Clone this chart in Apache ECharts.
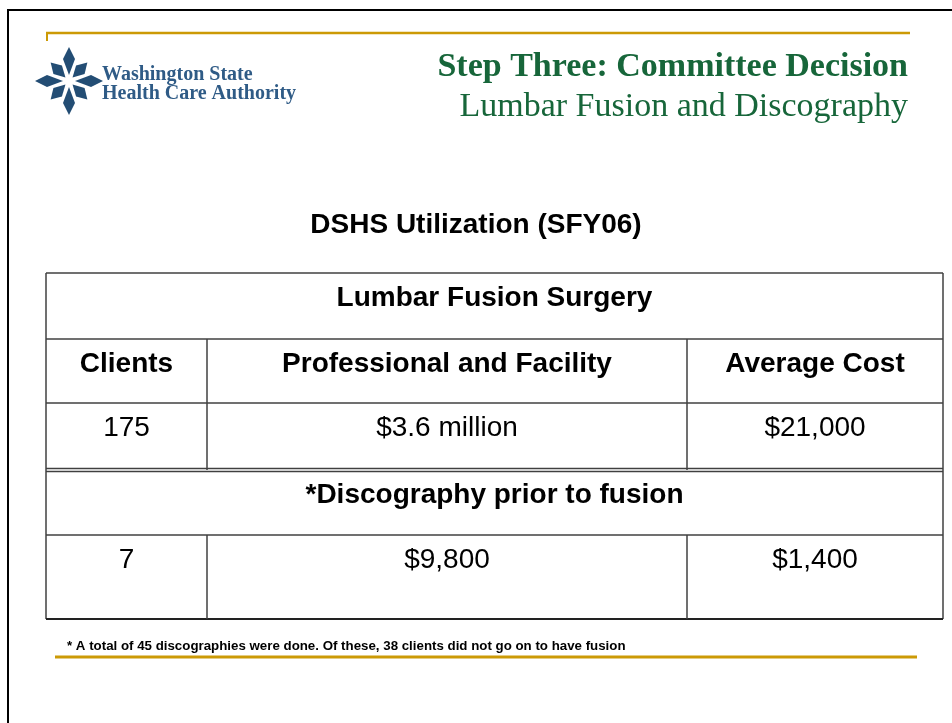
<!DOCTYPE html>
<html>
<head>
<meta charset="utf-8">
<title>DSHS Utilization (SFY06)</title>
<script src="https://cdn.jsdelivr.net/npm/echarts@6/dist/echarts.min.js"></script>
<style>
  html, body { margin: 0; padding: 0; background: #fff; }
  #chart { width: 952px; height: 723px; }
</style>
</head>
<body>
<div id="chart"></div>
<script>
  // table content
  var headerCols = ['Clients', 'Professional and Facility', 'Average Cost'];
  var sections = ['Lumbar Fusion Surgery', '*Discography prior to fusion'];
  var clients = [175, 7];
  var totalCost = ['$3.6 million', '$9,800'];
  var avgCost = ['$21,000', '$1,400'];
  var footnote = '* A total of 45 discographies were done. Of these, 38 clients did not go on to have fusion';

  // table layout (pixels inside the grid)
  var colEdges = [0, 161, 641, 897];
  var rowEdges = [0, 66, 130, 197, 262, 346];

  var rows = [
    { kind: 'section', text: sections[0] },
    { kind: 'header', cells: headerCols },
    { kind: 'data', cells: [String(clients[0]), totalCost[0], avgCost[0]] },
    { kind: 'section', text: sections[1] },
    { kind: 'data', cells: [String(clients[1]), totalCost[1], avgCost[1]] }
  ];

  var chart = echarts.init(document.getElementById('chart'));

  var lineStyle = { stroke: '#404040', lineWidth: 1.5 };
  var cellFont = '28px "Liberation Sans", Arial, sans-serif';

  function renderRow(params, api) {
    var i = api.value(1);
    var row = rows[i];
    var tl = api.coord([colEdges[0], rowEdges[i]]);
    var br = api.coord([colEdges[3], rowEdges[i + 1]]);
    var children = [];
    // top border (double before the second section)
    if (i === 3) {
      children.push({ type: 'line', shape: { x1: tl[0], y1: tl[1] - 1.5, x2: br[0], y2: tl[1] - 1.5 }, style: lineStyle });
      children.push({ type: 'line', shape: { x1: tl[0], y1: tl[1] + 1.5, x2: br[0], y2: tl[1] + 1.5 }, style: lineStyle });
    } else {
      children.push({ type: 'line', shape: { x1: tl[0], y1: tl[1], x2: br[0], y2: tl[1] }, style: lineStyle });
    }
    // side borders
    children.push({ type: 'line', shape: { x1: tl[0], y1: tl[1], x2: tl[0], y2: br[1] }, style: lineStyle });
    children.push({ type: 'line', shape: { x1: br[0], y1: tl[1], x2: br[0], y2: br[1] }, style: lineStyle });
    if (i === rows.length - 1) {
      children.push({ type: 'line', shape: { x1: tl[0], y1: br[1], x2: br[0], y2: br[1] }, style: { stroke: '#222', lineWidth: 2 } });
    }
    var ty = tl[1] + 25;
    if (row.kind === 'section') {
      children.push({
        type: 'text',
        style: { x: (tl[0] + br[0]) / 2, y: ty, text: row.text, fill: '#000',
          font: 'bold ' + cellFont, align: 'center', verticalAlign: 'middle' }
      });
    } else {
      for (var c = 0; c < 3; c++) {
        var a = api.coord([colEdges[c], rowEdges[i]]);
        var b = api.coord([colEdges[c + 1], rowEdges[i]]);
        if (c > 0) {
          children.push({ type: 'line', shape: { x1: a[0], y1: tl[1], x2: a[0], y2: br[1] }, style: lineStyle });
        }
        children.push({
          type: 'text',
          style: { x: (a[0] + b[0]) / 2, y: ty, text: row.cells[c], fill: '#000',
            font: (row.kind === 'header' ? 'bold ' : '') + cellFont,
            align: 'center', verticalAlign: 'middle' }
        });
      }
    }
    return { type: 'group', children: children };
  }

  // logo star arms
  var logoColor = '#234d74';
  var cx = 69, cy = 81;
  function kite(angle, tip, wide, half, inner) {
    var pts = [[tip, 0], [wide, half], [inner, 0], [wide, -half]];
    var ca = Math.cos(angle), sa = Math.sin(angle);
    return pts.map(function (p) { return [cx + p[0] * ca - p[1] * sa, cy + p[0] * sa + p[1] * ca]; });
  }
  var logoArms = [];
  [0, 90, 180, 270].forEach(function (d) {
    logoArms.push({ type: 'polygon', shape: { points: kite(d * Math.PI / 180, 34, 22, 6, 6) }, style: { fill: logoColor } });
  });
  [45, 135, 225, 315].forEach(function (d) {
    logoArms.push({ type: 'polygon', shape: { points: kite(d * Math.PI / 180, 26, 16, 6, 5) }, style: { fill: logoColor } });
  });

  chart.setOption({
    animation: false,
    title: [
      { text: 'Step Three: Committee Decision', right: 39, top: 45,
        textStyle: { fontFamily: '"Liberation Serif", serif', fontWeight: 'bold', fontSize: 34, color: '#17663a' } },
      { text: 'Lumbar Fusion and Discography', right: 39, top: 85,
        textStyle: { fontFamily: '"Liberation Serif", serif', fontWeight: 'normal', fontSize: 34, color: '#17663a' } },
      { text: 'DSHS Utilization (SFY06)', left: 'center', top: 206,
        textStyle: { fontFamily: '"Liberation Sans", Arial, sans-serif', fontWeight: 'bold', fontSize: 28, color: '#000' } }
    ],
    grid: { left: 46, top: 273, width: 897, height: 346 },
    xAxis: { type: 'value', min: 0, max: 897, show: false },
    yAxis: { type: 'value', min: 0, max: 346, inverse: true, show: false },
    series: [{
      type: 'custom',
      renderItem: renderRow,
      clip: false,
      data: rows.map(function (r, i) { return [0, i]; })
    }],
    graphic: [
      // slide frame
      { type: 'rect', shape: { x: 8, y: 10, width: 960, height: 730 }, style: { fill: 'none', stroke: '#000', lineWidth: 2 }, silent: true },
      // gold rules
      { type: 'line', shape: { x1: 46, y1: 33, x2: 910, y2: 33 }, style: { stroke: '#cc9a06', lineWidth: 2.5 } },
      { type: 'line', shape: { x1: 47, y1: 33, x2: 47, y2: 41 }, style: { stroke: '#cc9a06', lineWidth: 2 } },
      { type: 'line', shape: { x1: 55, y1: 657, x2: 917, y2: 657 }, style: { stroke: '#cc9a06', lineWidth: 3 } },
      // logo
      { type: 'group', children: logoArms },
      { type: 'text', style: { x: 102, y: 75, text: 'Washington State', fill: '#2f5b86',
          font: 'bold 20px "Liberation Serif", serif', verticalAlign: 'middle' } },
      { type: 'text', style: { x: 102, y: 94, text: 'Health Care Authority', fill: '#2f5b86',
          font: 'bold 20px "Liberation Serif", serif', verticalAlign: 'middle' } },
      // footnote
      { type: 'text', style: { x: 67, y: 646, text: footnote, fill: '#000',
          font: 'bold 13.3px "Liberation Sans", Arial, sans-serif', verticalAlign: 'middle' } }
    ]
  });
</script>
</body>
</html>
